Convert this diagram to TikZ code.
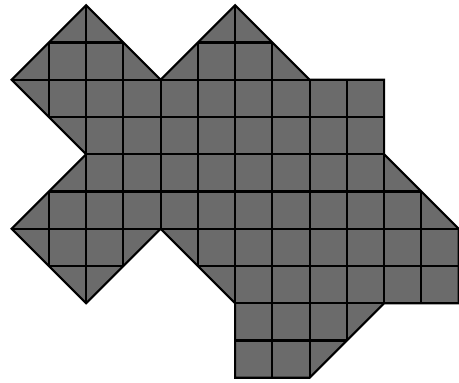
\documentclass[tikz,border=0pt]{standalone}
\usepackage{xcolor}
\usepackage{tikz}
\definecolor{tilegray}{RGB}{107,107,107}
\newcommand{\tileshape}{(2,10) -- (4,8) -- (6,10) -- (8,8) -- (10,8) -- (10,6) -- (12,4) -- (12,2) -- (10,2) -- (8,0) -- (6,0) -- (6,2) -- (4,4) -- (2,2) -- (0,4) -- (2,6) -- (0,8) -- cycle}

\begin{document}
\begin{tikzpicture}
                  \useasboundingbox (-0.31,-0.14) rectangle (12.01,10.14);

                  \begin{scope}
                  \clip \tileshape;
                  \fill[tilegray] (0,0) rectangle (12,10);
                  \draw[line width=1.6pt] (0,0) grid (12,10); %cells
                  \end{scope}

                  \draw[line width=1.6pt, line join=miter] \tileshape; %outline
              \end{tikzpicture}
\end{document}
